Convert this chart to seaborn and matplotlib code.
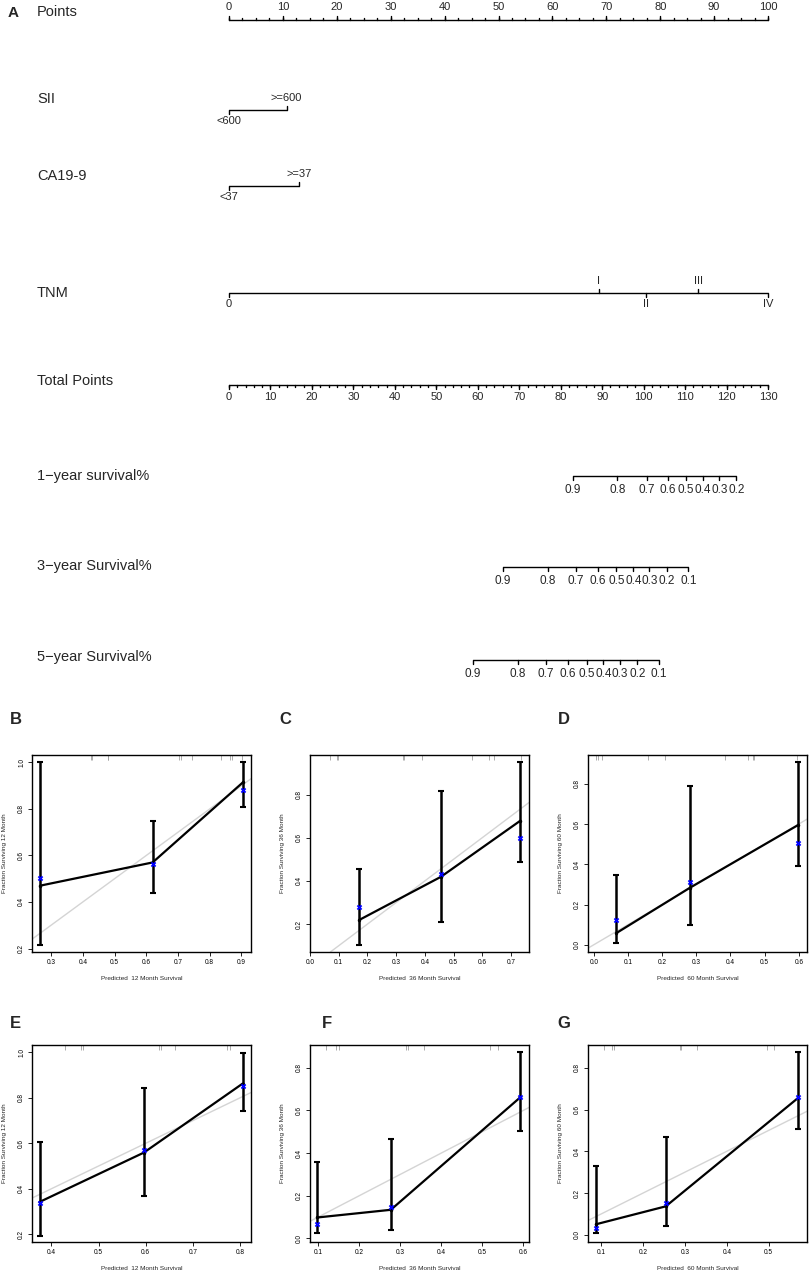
import numpy as np
import pandas as pd
import matplotlib
matplotlib.use("Agg")
import matplotlib.pyplot as plt
import seaborn as sns

sns.set_theme(style="white")
plt.rcParams['font.family'] = ['Liberation Sans', 'DejaVu Sans']

# ---------------- Nomogram data (panel A) ----------------
row_names = ["Points", "SII", "CA19-9", "TNM", "Total Points",
             "1\u2212year survival%", "3\u2212year Survival%", "5\u2212year Survival%"]
points_major = list(range(0, 101, 10))
sii_levels = ["<600", ">=600"]
sii_points = [0, 10.7]
ca199_levels = ["<37", ">=37"]
ca199_points = [0, 13.0]
tnm_levels = ["0", "I", "II", "III", "IV"]
tnm_points = [0, 68.6, 77.4, 87.1, 100]
total_major = list(range(0, 131, 10))
total_max = 130
surv1_labels = ["0.9", "0.8", "0.7", "0.6", "0.5", "0.4", "0.3", "0.2"]
surv1_total = [82.9, 93.7, 100.7, 105.8, 110.2, 114.3, 118.3, 122.4]
surv3_labels = ["0.9", "0.8", "0.7", "0.6", "0.5", "0.4", "0.3", "0.2", "0.1"]
surv3_total = [66.0, 76.9, 83.7, 88.9, 93.4, 97.5, 101.4, 105.6, 110.8]
surv5_labels = ["0.9", "0.8", "0.7", "0.6", "0.5", "0.4", "0.3", "0.2", "0.1"]
surv5_total = [58.8, 69.6, 76.5, 81.7, 86.3, 90.3, 94.3, 98.5, 103.7]

# ---------------- Calibration data (panels B-G) ----------------
B_pred = [0.265, 0.620, 0.905]
B_obs = [0.470, 0.570, 0.915]
B_corr = [0.505, 0.565, 0.880]
B_lo = [0.215, 0.440, 0.810]
B_hi = [1.000, 0.750, 1.000]
B_rug = [0.425, 0.430, 0.478, 0.481, 0.704, 0.708, 0.744, 0.836, 0.865, 0.870, 0.902]

C_pred = [0.171, 0.456, 0.733]
C_obs = [0.219, 0.419, 0.679]
C_corr = [0.278, 0.430, 0.600]
C_lo = [0.104, 0.212, 0.486]
C_hi = [0.457, 0.817, 0.951]
C_rug = [0.069, 0.095, 0.099, 0.323, 0.327, 0.390, 0.566, 0.625, 0.640, 0.734]

D_pred = [0.066, 0.281, 0.598]
D_obs = [0.058, 0.283, 0.595]
D_corr = [0.122, 0.313, 0.504]
D_lo = [0.010, 0.100, 0.392]
D_hi = [0.346, 0.790, 0.907]
D_rug = [0.005, 0.012, 0.024, 0.158, 0.207, 0.385, 0.450, 0.466, 0.470, 0.595]

E_pred = [0.375, 0.596, 0.805]
E_obs = [0.342, 0.559, 0.862]
E_corr = [0.336, 0.571, 0.852]
E_lo = [0.194, 0.367, 0.744]
E_hi = [0.607, 0.843, 0.997]
E_rug = [0.428, 0.462, 0.467, 0.629, 0.632, 0.662, 0.772, 0.779]

F_pred = [0.098, 0.277, 0.593]
F_obs = [0.098, 0.134, 0.662]
F_corr = [0.067, 0.146, 0.663]
F_lo = [0.025, 0.037, 0.505]
F_hi = [0.359, 0.466, 0.873]
F_rug = [0.120, 0.144, 0.150, 0.315, 0.319, 0.357, 0.519, 0.539]

G_pred = [0.087, 0.254, 0.570]
G_obs = [0.050, 0.136, 0.655]
G_corr = [0.032, 0.152, 0.662]
G_lo = [0.008, 0.040, 0.508]
G_hi = [0.329, 0.471, 0.876]
G_rug = [0.106, 0.125, 0.131, 0.287, 0.290, 0.329, 0.496, 0.512]

W, H = 810, 1272
fig = plt.figure(figsize=(W / 100, H / 100), dpi=100)
fig.patch.set_facecolor("white")

# ---------------- Panel A: nomogram ----------------
NOM_H = 690
axn = fig.add_axes([0, 1 - NOM_H / H, 1, NOM_H / H])
px_per_pt = 539 / 100.0
axn.set_xlim(-229 / px_per_pt, (W - 229) / px_per_pt)
axn.set_ylim(NOM_H, 0)
axn.axis("off")

LBL_FS = 10.5
TCK_FS = 8
SURV_FS = 8.5
LW = 1.0
lab_x = 37 / W
tr_lab = axn.get_yaxis_transform()  # x in axes, y in data


def hline(y, x0, x1):
    axn.plot([x0, x1], [y, y], color="black", lw=LW, solid_capstyle="butt")


def ticks(y, xs, length, up):
    for x in xs:
        axn.plot([x, x], [y, y - length if up else y + length], color="black", lw=LW)


# Points
y_pts = 20
hline(y_pts, 0, 100)
ticks(y_pts, np.arange(0, 100.01, 2.5), 2, True)
ticks(y_pts, points_major, 4, True)
for v in points_major:
    axn.text(v, y_pts - 8, str(v), ha="center", va="bottom", fontsize=TCK_FS)
axn.text(lab_x, y_pts - 8, row_names[0], transform=tr_lab, fontsize=LBL_FS, va="center")


def cat_row(y, pts, labels, name, name_y):
    hline(y, min(pts), max(pts))
    for i, (p, l) in enumerate(zip(pts, labels)):
        up = (i % 2 == 1)
        ticks(y, [p], 4, up)
        if up:
            axn.text(p, y - 7, l, ha="center", va="bottom", fontsize=TCK_FS)
        else:
            axn.text(p, y + 6, l, ha="center", va="top", fontsize=TCK_FS)
    axn.text(lab_x, name_y, name, transform=tr_lab, fontsize=LBL_FS, va="center")


cat_row(110, sii_points, sii_levels, row_names[1], 99)
cat_row(186, ca199_points, ca199_levels, row_names[2], 176)
cat_row(293, tnm_points, tnm_levels, row_names[3], 293)

# Total points
y_tot = 385
scale_tot = 100.0 / total_max
hline(y_tot, 0, 100)
ticks(y_tot, np.arange(0, total_max + 0.01, 2) * scale_tot, 2, False)
ticks(y_tot, np.array(total_major) * scale_tot, 4, False)
for v in total_major:
    axn.text(v * scale_tot, y_tot + 7, str(v), ha="center", va="top", fontsize=TCK_FS)
axn.text(lab_x, 381, row_names[4], transform=tr_lab, fontsize=LBL_FS, va="center")


def surv_row(y, tot, labels, name, name_y):
    xs = np.array(tot) * scale_tot
    hline(y, xs.min(), xs.max())
    ticks(y, xs, 4, False)
    for x, l in zip(xs, labels):
        axn.text(x, y + 8, l, ha="center", va="top", fontsize=SURV_FS)
    axn.text(lab_x, name_y, name, transform=tr_lab, fontsize=LBL_FS, va="center")


surv_row(476, surv1_total, surv1_labels, row_names[5], 476)
surv_row(567, surv3_total, surv3_labels, row_names[6], 566)
surv_row(660, surv5_total, surv5_labels, row_names[7], 657)

fig.text(8 / W, 1 - 13 / H, "A", fontsize=11, fontweight="bold", va="center", ha="left")

# ---------------- Panels B-G: calibration ----------------
panels = [
    ("B", 32, 755, B_pred, B_obs, B_corr, B_lo, B_hi, B_rug, (0.24, 0.93), (0.185, 1.032),
     np.arange(0.3, 0.91, 0.1), np.arange(0.2, 1.01, 0.2), 12, (10, 720)),
    ("C", 310, 755, C_pred, C_obs, C_corr, C_lo, C_hi, C_rug, (0.0, 0.763), (0.071, 0.983),
     np.arange(0.0, 0.71, 0.1), np.arange(0.2, 0.81, 0.2), 36, (279, 720)),
    ("D", 588, 755, D_pred, D_obs, D_corr, D_lo, D_hi, D_rug, (-0.017, 0.624), (-0.036, 0.943),
     np.arange(0.0, 0.61, 0.1), np.arange(0.0, 0.81, 0.2), 60, (558, 720)),
    ("E", 32, 1045, E_pred, E_obs, E_corr, E_lo, E_hi, E_rug, (0.359, 0.823), (0.166, 1.032),
     np.arange(0.4, 0.81, 0.1), np.arange(0.2, 1.01, 0.2), 12, (10, 1023)),
    ("F", 310, 1045, F_pred, F_obs, F_corr, F_lo, F_hi, F_rug, (0.08, 0.614), (-0.017, 0.907),
     np.arange(0.1, 0.61, 0.1), np.arange(0.0, 0.81, 0.2), 36, (322, 1023)),
    ("G", 588, 1045, G_pred, G_obs, G_corr, G_lo, G_hi, G_rug, (0.068, 0.592), (-0.035, 0.91),
     np.arange(0.1, 0.51, 0.1), np.arange(0.0, 0.81, 0.2), 60, (557, 1023)),
]

PW, PH = 219, 197
for (letter, left, top, pred, obs, corr, lo, hi, rug, xl, yl, xt, yt, month, lpos) in panels:
    ax = fig.add_axes([left / W, 1 - (top + PH) / H, PW / W, PH / H])
    ax.set_xlim(*xl)
    ax.set_ylim(*yl)
    ax.axline((0, 0), slope=1, color="#d4d4d4", lw=1.0, zorder=1)
    lo_a, hi_a = np.array(lo), np.array(hi)
    ax.errorbar(pred, (lo_a + hi_a) / 2, yerr=(hi_a - lo_a) / 2, fmt="none",
                ecolor="black", elinewidth=1.8, capsize=2.2, capthick=1.5, zorder=3)
    df = pd.DataFrame({"pred": pred, "obs": obs})
    sns.lineplot(data=df, x="pred", y="obs", ax=ax, color="black", lw=1.6,
                 sort=False, estimator=None, marker="o", markersize=2.5,
                 markeredgewidth=0, zorder=4)
    dfc = pd.DataFrame({"pred": pred, "corr": corr})
    sns.scatterplot(data=dfc, x="pred", y="corr", ax=ax, marker="X", color="blue",
                    s=16, linewidth=0, zorder=5)
    ax.vlines(rug, 0.975, 1.0, transform=ax.get_xaxis_transform(), color="#a0a0a0", lw=0.6)
    ax.set_xticks(xt)
    ax.set_xticklabels([f"{v:.1f}" for v in xt])
    ax.set_yticks(yt)
    ax.set_yticklabels([f"{v:.1f}" for v in yt], rotation=90, va="center")
    ax.tick_params(direction="out", length=3, width=0.6, labelsize=4.7, pad=2,
                   bottom=True, left=True, colors="black")
    for s in ax.spines.values():
        s.set_color("black")
        s.set_linewidth(1.0)
    ax.set_xlabel(f"Predicted  {month} Month Survival", fontsize=4.6, labelpad=7)
    ax.set_ylabel(f"Fraction Surviving {month} Month", fontsize=4.6, labelpad=8)
    ax.set_facecolor("white")
    fig.text(lpos[0] / W, 1 - lpos[1] / H, letter, fontsize=12, fontweight="bold",
             va="center", ha="left")

fig.savefig("out.png", dpi=100, facecolor="white")
